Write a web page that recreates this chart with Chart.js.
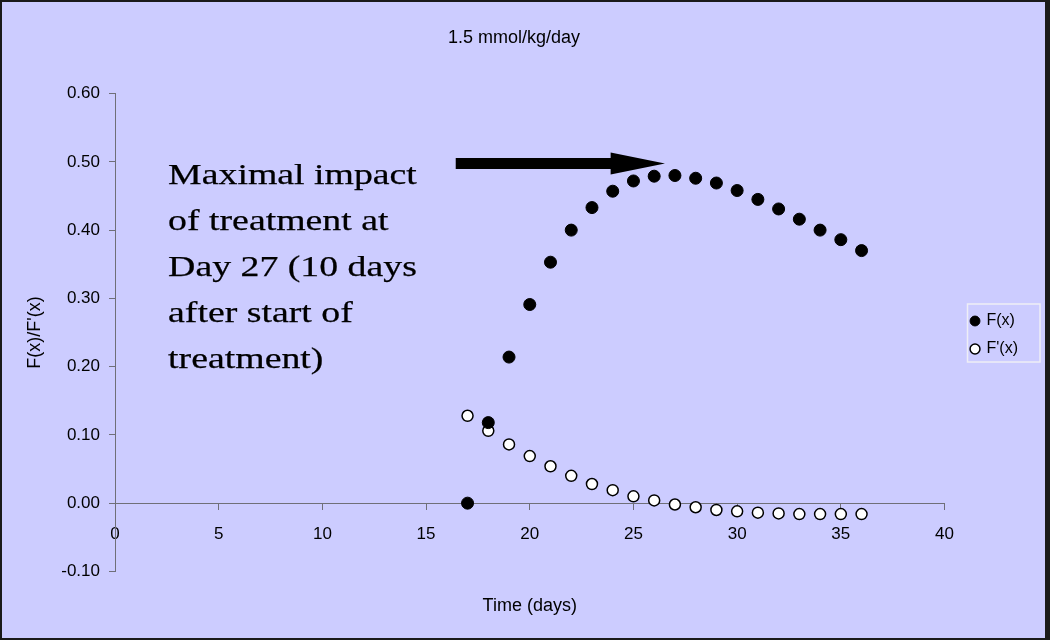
<!DOCTYPE html>
<html>
<head>
<meta charset="utf-8">
<script src="https://cdn.jsdelivr.net/npm/chart.js@4.4.1/dist/chart.umd.min.js"></script>
<style>
html, body { margin: 0; padding: 0; background: #ccccff; }
</style>
</head>
<body>
<canvas id="myChart" width="1050" height="640"></canvas>
<script>
// data
const days = [17, 18, 19, 20, 21, 22, 23, 24, 25, 26, 27, 28, 29, 30, 31, 32, 33, 34, 35, 36];
const fx = [0.000, 0.118, 0.214, 0.291, 0.353, 0.400, 0.433, 0.457, 0.472, 0.479,
            0.480, 0.476, 0.469, 0.458, 0.445, 0.431, 0.416, 0.400, 0.386, 0.370];
const fpx = [0.128, 0.106, 0.086, 0.069, 0.054, 0.040, 0.028, 0.019, 0.010, 0.004,
             -0.002, -0.006, -0.010, -0.012, -0.014, -0.015, -0.016, -0.016, -0.016, -0.016];
const xTicks = [0, 5, 10, 15, 20, 25, 30, 35, 40];
const yTicks = [-0.1, 0, 0.1, 0.2, 0.3, 0.4, 0.5, 0.6];
const noteLines = ["Maximal impact", "of treatment at", "Day 27 (10 days", "after start of", "treatment)"];

const sans = "'Liberation Sans', Arial, sans-serif";
const axisGray = "#6f6f78";

function toPoints(xs, ys) {
    return xs.map((d, i) => ({ x: d, y: ys[i] }));
}

// background, frame, arrow + note text, legend box
const extras = {
    id: "extras",
    beforeDraw(chart) {
        const ctx = chart.ctx;
        ctx.save();
        ctx.fillStyle = "#ccccff";
        ctx.fillRect(0, 0, chart.width, chart.height);
        ctx.restore();
    },
    afterDatasetsDraw(chart) {
        const ctx = chart.ctx;
        const xs = chart.scales.x, ys = chart.scales.y;
        // arrow pointing at the peak
        const x0 = xs.getPixelForValue(16.43);
        const xh = xs.getPixelForValue(23.9);
        const x1 = xs.getPixelForValue(26.52);
        const yc = ys.getPixelForValue(0.4976);
        ctx.save();
        ctx.fillStyle = "#000";
        ctx.beginPath();
        ctx.moveTo(x0, yc - 5.5);
        ctx.lineTo(xh, yc - 5.5);
        ctx.lineTo(xh, yc - 11);
        ctx.lineTo(x1, yc);
        ctx.lineTo(xh, yc + 11);
        ctx.lineTo(xh, yc + 5.5);
        ctx.lineTo(x0, yc + 5.5);
        ctx.closePath();
        ctx.fill();
        // note text
        const tx = xs.getPixelForValue(2.56);
        let ty = ys.getPixelForValue(0.4676);
        ctx.font = "30px 'Liberation Serif', 'Times New Roman', serif";
        ctx.textBaseline = "alphabetic";
        ctx.strokeStyle = "#000";
        ctx.lineWidth = 0.25;
        noteLines.forEach(line => {
            ctx.save();
            ctx.translate(tx, ty);
            ctx.scale(1.26, 1);
            ctx.fillText(line, 0, 0);
            ctx.strokeText(line, 0, 0);
            ctx.restore();
            ty += 46;
        });
        ctx.restore();
    },
    afterDraw(chart) {
        const ctx = chart.ctx;
        const boxes = chart.legend.legendHitBoxes;
        ctx.save();
        if (boxes && boxes.length) {
            let l = Infinity, t = Infinity, r = -Infinity, b = -Infinity;
            boxes.forEach(h => {
                l = Math.min(l, h.left); t = Math.min(t, h.top);
                r = Math.max(r, h.left + h.width); b = Math.max(b, h.top + h.height);
            });
            ctx.strokeStyle = "#eeeef6";
            ctx.lineWidth = 1.5;
            ctx.strokeRect(l - 4, t - 9, r - l + 26, b - t + 14);
        }
        // outer frame
        ctx.fillStyle = "#1a1a1a";
        ctx.fillRect(0, 0, chart.width, 2);
        ctx.fillRect(0, chart.height - 2, chart.width, 2);
        ctx.fillRect(0, 0, 2, chart.height);
        ctx.fillRect(chart.width - 5, 0, 5, chart.height);
        ctx.restore();
    }
};

let ctx = document.getElementById("myChart");
let myChart = new Chart(ctx, {
    type: "scatter",
    data: {
        datasets: [{
            label: "F(x)",
            data: toPoints(days, fx),
            backgroundColor: "#000",
            borderColor: "#000",
            borderWidth: 1,
            pointRadius: 6,
            pointStyle: "circle"
        }, {
            label: "F'(x)",
            data: toPoints(days, fpx),
            backgroundColor: "#fff",
            borderColor: "#000",
            borderWidth: 1.5,
            pointRadius: 5.5,
            pointStyle: "circle"
        }]
    },
    options: {
        responsive: false,
        animation: false,
        layout: { padding: { left: 0, right: 22, top: 0, bottom: 0 } },
        plugins: {
            title: {
                display: true,
                text: "1.5 mmol/kg/day",
                color: "#000",
                font: { family: sans, size: 18, weight: "normal" },
                padding: { top: 27, bottom: 45 }
            },
            subtitle: {
                display: true,
                position: "bottom",
                fullSize: false,
                text: "Time (days)",
                color: "#000",
                font: { family: sans, size: 18, weight: "normal" },
                padding: { top: 24, bottom: 23 }
            },
            legend: {
                position: "right",
                title: { display: true, text: "", font: { size: 10 }, padding: { top: 10, bottom: 8 } },
                labels: {
                    usePointStyle: true,
                    boxWidth: 7,
                    boxHeight: 7,
                    padding: 12,
                    color: "#000",
                    font: { family: sans, size: 16 }
                }
            },
            tooltip: { enabled: false }
        },
        scales: {
            x: {
                type: "linear",
                position: { y: 0 },
                min: 0,
                max: 40,
                afterBuildTicks: s => { s.ticks = xTicks.map(v => ({ value: v })); },
                ticks: {
                    color: "#000",
                    font: { family: sans, size: 17 },
                    padding: 15
                },
                grid: { drawOnChartArea: false, drawTicks: true, tickLength: 6, color: axisGray },
                border: { color: axisGray }
            },
            y: {
                min: -0.1,
                max: 0.6,
                afterBuildTicks: s => { s.ticks = yTicks.map(v => ({ value: v })); },
                afterFit: s => { s.width = 115; },
                ticks: {
                    color: "#000",
                    font: { family: sans, size: 17 },
                    padding: 9,
                    callback: v => v.toFixed(2)
                },
                grid: { drawOnChartArea: false, drawTicks: true, tickLength: 6, color: axisGray },
                border: { color: axisGray },
                title: {
                    display: true,
                    text: "F(x)/F'(x)",
                    color: "#000",
                    font: { family: sans, size: 18 },
                    padding: { top: 24, bottom: 0 }
                }
            },
            // empty spacer between plot area and legend
            gap: {
                type: "linear",
                axis: "y",
                position: "right",
                display: true,
                ticks: { display: false },
                grid: { display: false },
                border: { display: false },
                afterFit: s => { s.width = 15; }
            }
        }
    },
    plugins: [extras]
});
</script>
</body>
</html>
